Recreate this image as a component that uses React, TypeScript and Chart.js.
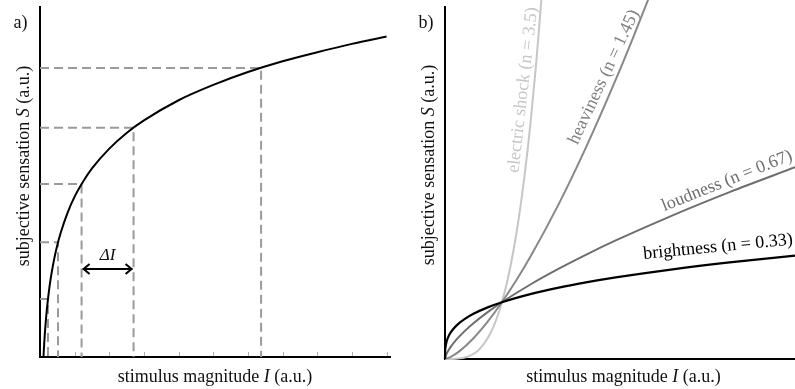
import React, { useEffect, useRef } from "react";
import { Chart, registerables } from "chart.js";

Chart.register(...registerables);

const FONT = '"Liberation Serif", "Times New Roman", serif';

// ---------- panel a): logarithmic (Fechner) law ----------
const fechnerI = [0.1, 0.105, 0.11, 0.12, 0.135, 0.15, 0.175, 0.2, 0.25, 0.3, 0.4, 0.5, 0.6, 0.8, 1, 1.25, 1.5, 2, 2.5, 3, 4, 5, 6, 7, 8, 9, 10];
const fechnerS = [0, 0.1, 0.19, 0.36, 0.6, 0.81, 1.12, 1.39, 1.83, 2.2, 2.77, 3.22, 3.58, 4.16, 4.61, 5.05, 5.42, 5.99, 6.44, 6.8, 7.38, 7.82, 8.19, 8.5, 8.76, 9.0, 9.21];
const guideI = [0.23, 0.52, 1.2, 2.7, 6.38];
const guideS = [1.67, 3.3, 4.97, 6.59, 8.31];
const tickI = [1, 2, 3, 4, 5, 6, 7, 8, 9, 10];
const deltaLevel = 2.53;
const deltaLabel = "ΔI";

// ---------- panel b): power (Stevens) law ----------
const brightI = [0, 0.002, 0.01, 0.03, 0.06, 0.1, 0.2, 0.35, 0.5, 0.75, 1, 1.5, 2, 2.5, 3, 4, 5, 6.15];
const brightS = [0, 0.129, 0.219, 0.314, 0.395, 0.468, 0.588, 0.707, 0.796, 0.909, 1, 1.143, 1.257, 1.353, 1.437, 1.58, 1.701, 1.821];
const loudI = [0, 0.02, 0.05, 0.1, 0.2, 0.35, 0.5, 0.75, 1, 1.5, 2, 2.5, 3, 4, 5, 6.15];
const loudS = [0, 0.073, 0.134, 0.214, 0.34, 0.495, 0.629, 0.825, 1, 1.312, 1.591, 1.848, 2.088, 2.531, 2.94, 3.377];
const heavyI = [0, 0.1, 0.25, 0.5, 0.75, 1, 1.25, 1.5, 2, 2.5, 3, 3.3, 3.6];
const heavyS = [0, 0.036, 0.134, 0.366, 0.659, 1, 1.382, 1.8, 2.732, 3.776, 4.919, 5.648, 6.407];
const shockI = [0, 0.2, 0.4, 0.6, 0.8, 0.9, 1, 1.1, 1.2, 1.3, 1.4, 1.5, 1.6, 1.7];
const shockS = [0, 0.004, 0.041, 0.167, 0.458, 0.691, 1, 1.396, 1.893, 2.505, 3.247, 4.134, 5.181, 6.406];
const curveNames = ["electric shock (n = 3.5)", "heaviness (n = 1.45)", "loudness (n = 0.67)", "brightness (n = 0.33)"];

// label placement (data coords) and styling kept apart from the data
const labelAnchorI = [1.371, 2.794, 4.955, 4.797];
const labelAnchorS = [4.738, 4.967, 3.135, 1.973];
const labelAngles = [-83.5, -65, -21.8, -5.5];
const curveColors = ["#c6c6c6", "#888888", "#6e6e6e", "#000000"];

type Part = { t: string; it?: boolean };

function drawMixed(ctx: CanvasRenderingContext2D, parts: Part[], size: number, cx: number, cy: number, rot: number, color: string, baseline: CanvasTextBaseline = "middle") {
  ctx.save();
  ctx.translate(cx, cy);
  ctx.rotate((rot * Math.PI) / 180);
  ctx.fillStyle = color;
  ctx.textBaseline = baseline;
  ctx.textAlign = "left";
  let total = 0;
  const widths = parts.map((p) => {
    ctx.font = `${p.it ? "italic " : ""}${size}px ${FONT}`;
    const w = ctx.measureText(p.t).width;
    total += w;
    return w;
  });
  let x = -total / 2;
  parts.forEach((p, i) => {
    ctx.font = `${p.it ? "italic " : ""}${size}px ${FONT}`;
    ctx.fillText(p.t, x, 0);
    x += widths[i];
  });
  ctx.restore();
}

const xTitle: Part[] = [{ t: "stimulus magnitude " }, { t: "I", it: true }, { t: " (a.u.)" }];
const yTitle: Part[] = [{ t: "subjective sensation " }, { t: "S", it: true }, { t: " (a.u.)" }];

const axisOpts = (min: number, max: number) => ({
  type: "linear" as const,
  min,
  max,
  ticks: { display: false },
  grid: { display: false, drawTicks: false },
  border: { display: true, color: "#000", width: 2 },
});

function PanelA() {
  const ref = useRef<HTMLCanvasElement>(null);
  useEffect(() => {
    const plugin = {
      id: "panelA",
      afterDraw(chart: any) {
        const ctx = chart.ctx as CanvasRenderingContext2D;
        const xs = chart.scales.x;
        const ys = chart.scales.y;
        const area = chart.chartArea;
        // minor ticks on the x axis (inside)
        ctx.save();
        ctx.strokeStyle = "#b0b0b0";
        ctx.lineWidth = 1;
        tickI.forEach((v) => {
          const px = Math.round(xs.getPixelForValue(v)) + 0.5;
          ctx.beginPath();
          ctx.moveTo(px, area.bottom - 1);
          ctx.lineTo(px, area.bottom - 5);
          ctx.stroke();
        });
        ctx.restore();
        // delta arrow
        const x1 = xs.getPixelForValue(guideI[2]) + 1;
        const x2 = xs.getPixelForValue(guideI[3]) - 1;
        const ay = ys.getPixelForValue(deltaLevel);
        ctx.save();
        ctx.strokeStyle = "#000";
        ctx.lineWidth = 2;
        ctx.beginPath();
        ctx.moveTo(x1, ay);
        ctx.lineTo(x2, ay);
        ctx.moveTo(x1 + 7, ay - 5);
        ctx.lineTo(x1 + 1, ay);
        ctx.lineTo(x1 + 7, ay + 5);
        ctx.moveTo(x2 - 7, ay - 5);
        ctx.lineTo(x2 - 1, ay);
        ctx.lineTo(x2 - 7, ay + 5);
        ctx.stroke();
        ctx.restore();
        drawMixed(ctx, [{ t: deltaLabel, it: true }], 17, (x1 + x2) / 2, ay - 13, 0, "#111");
        // titles
        drawMixed(ctx, xTitle, 18, (area.left + area.right) / 2, 382, 0, "#111", "alphabetic");
        drawMixed(ctx, yTitle, 18, 24, 166, -90, "#111");
        drawMixed(ctx, [{ t: "a)" }], 18, 20.5, 28, 0, "#111", "alphabetic");
      },
    };
    const chart = new Chart(ref.current!, {
      type: "line",
      data: {
        datasets: [
          {
            data: fechnerI.map((x, i) => ({ x, y: fechnerS[i] })),
            borderColor: "#000",
            borderWidth: 2,
            pointRadius: 0,
            cubicInterpolationMode: "monotone",
            order: 0,
          },
          ...guideI.map((I, i) => ({
            data: [
              { x: 0, y: guideS[i] },
              { x: I, y: guideS[i] },
              { x: I, y: 0 },
            ],
            borderColor: "#9a9a9a",
            borderWidth: 2,
            borderDash: [9, 5],
            pointRadius: 0,
            tension: 0,
            order: 1,
          })),
        ],
      },
      options: {
        animation: false,
        responsive: false,
        events: [],
        layout: { padding: { left: 40, right: 10, top: 7, bottom: 32 } },
        plugins: { legend: { display: false }, tooltip: { enabled: false } },
        scales: { x: axisOpts(0, 10.1), y: axisOpts(0, 10.06) },
      } as any,
      plugins: [plugin],
    });
    return () => chart.destroy();
  }, []);
  return <canvas ref={ref} width={400} height={389} style={{ position: "absolute", left: 0, top: 0 }} />;
}

function PanelB() {
  const ref = useRef<HTMLCanvasElement>(null);
  useEffect(() => {
    const plugin = {
      id: "panelB",
      afterDraw(chart: any) {
        const ctx = chart.ctx as CanvasRenderingContext2D;
        const xs = chart.scales.x;
        const ys = chart.scales.y;
        curveNames.forEach((name, i) => {
          drawMixed(
            ctx,
            [{ t: name }],
            18,
            xs.getPixelForValue(labelAnchorI[i]),
            ys.getPixelForValue(labelAnchorS[i]),
            labelAngles[i],
            i === 1 ? "#7f7f7f" : curveColors[i]
          );
        });
        drawMixed(ctx, xTitle, 18, 223.5, 382, 0, "#111", "alphabetic");
        drawMixed(ctx, yTitle, 18, 29, 165, -90, "#111");
        drawMixed(ctx, [{ t: "b)" }], 18, 26, 28, 0, "#111", "alphabetic");
      },
    };
    const series = [
      { I: shockI, S: shockS },
      { I: heavyI, S: heavyS },
      { I: loudI, S: loudS },
      { I: brightI, S: brightS },
    ];
    const chart = new Chart(ref.current!, {
      type: "line",
      data: {
        datasets: series.map((s, i) => ({
          data: s.I.map((x, j) => ({ x, y: s.S[j] })),
          borderColor: curveColors[i],
          borderWidth: i === 3 ? 2.2 : 2,
          pointRadius: 0,
          cubicInterpolationMode: "monotone",
          clip: false,
          order: 3 - i,
        })),
      },
      options: {
        animation: false,
        responsive: false,
        events: [],
        layout: { padding: { left: 45, right: 0, top: 7, bottom: 30 } },
        plugins: { legend: { display: false }, tooltip: { enabled: false } },
        scales: { x: axisOpts(0, 6.15), y: axisOpts(0, 6.2) },
      } as any,
      plugins: [plugin],
    });
    return () => chart.destroy();
  }, []);
  return <canvas ref={ref} width={395} height={389} style={{ position: "absolute", left: 400, top: 0 }} />;
}

export default function App() {
  return (
    <div style={{ position: "fixed", left: 0, top: 0, width: 795, height: 389, background: "#fff", overflow: "hidden" }}>
      <PanelA />
      <PanelB />
    </div>
  );
}
